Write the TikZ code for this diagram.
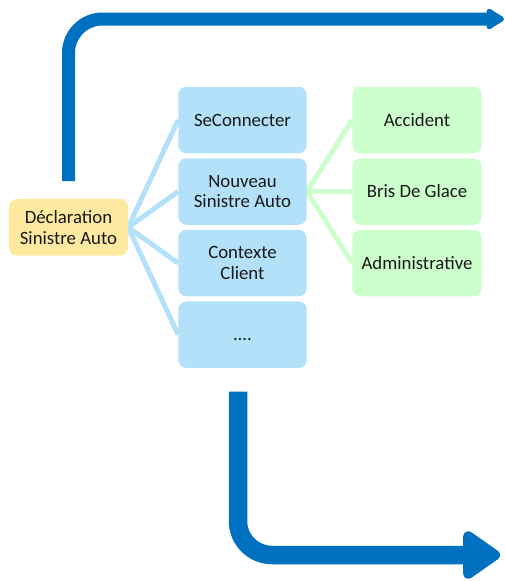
\documentclass[tikz,border=0pt]{standalone}
\usepackage{fontspec}
\setmainfont{Carlito}
\usetikzlibrary{arrows.meta,backgrounds}
\definecolor{flowblue}{RGB}{0,112,192}
\definecolor{boxblue}{RGB}{178,225,249}
\definecolor{boxgreen}{RGB}{204,255,204}
\definecolor{boxyellow}{RGB}{255,233,160}
\definecolor{txt}{RGB}{25,25,25}
\begin{document}
\begin{tikzpicture}[x=1pt,y=-1pt,
  card/.style={rectangle,rounded corners=8pt,inner sep=0pt,align=center,
    text=txt,font=\fontsize{18.8}{20.5}\selectfont},
  bluecard/.style={card,fill=boxblue,minimum width=128.4pt,minimum height=66.5pt},
  greencard/.style={card,fill=boxgreen,minimum width=129.4pt,minimum height=66.5pt},
  rootcard/.style={card,fill=boxyellow,minimum width=119pt,minimum height=56.7pt},
  bluelink/.style={draw=boxblue,line width=5pt},
  greenlink/.style={draw=boxgreen,line width=5pt},
  flow/.style={draw=flowblue,rounded corners=34pt,line cap=butt}]
\useasboundingbox (0,0) rectangle (505,581);

% flow arrows
\coordinate (topstart) at (68.5,181);
\coordinate (topbend) at (68.5,19);
\coordinate (topend) at (504,19);
\draw[flow,line width=13pt,-{Triangle[length=20pt,width=23pt,round]}]
  (topstart) -- (topbend) -- (topend);

\coordinate (botstart) at (238,391.7);
\coordinate (botbend) at (238,555);
\coordinate (botend) at (500,555);
\draw[flow,line width=18.5pt,-{Triangle[length=41pt,width=54pt,round]}]
  (botstart) -- (botbend) -- (botend);

% cards
\node[rootcard] (root) at (68.5,227.3) {Déclaration\\Sinistre Auto};

\node[bluecard] (conn) at (242.5,120) {SeConnecter};
\node[bluecard] (nouv) at (242.5,191.5) {Nouveau\\Sinistre Auto};
\node[bluecard] (ctx)  at (242.5,263) {Contexte\\Client};
\node[bluecard] (more) at (242.5,334.7) {\smash{\raisebox{-5.5pt}{....}}};

\node[greencard] (acc)  at (417,120) {Accident};
\node[greencard] (bris) at (417,191.5) {Bris De Glace};
\node[greencard] (adm)  at (417,263) {Administrative};

% connectors, kept behind the cards
\begin{pgfonlayer}{background}
\path[bluelink] (root.east) -- (conn.west);
\path[bluelink] (root.east) -- (nouv.west);
\path[bluelink] (root.east) -- (ctx.west);
\path[bluelink] (root.east) -- (more.west);
\path[greenlink] (nouv.east) -- (acc.west);
\path[greenlink] (nouv.east) -- (bris.west);
\path[greenlink] (nouv.east) -- (adm.west);
\end{pgfonlayer}
\end{tikzpicture}
\end{document}
